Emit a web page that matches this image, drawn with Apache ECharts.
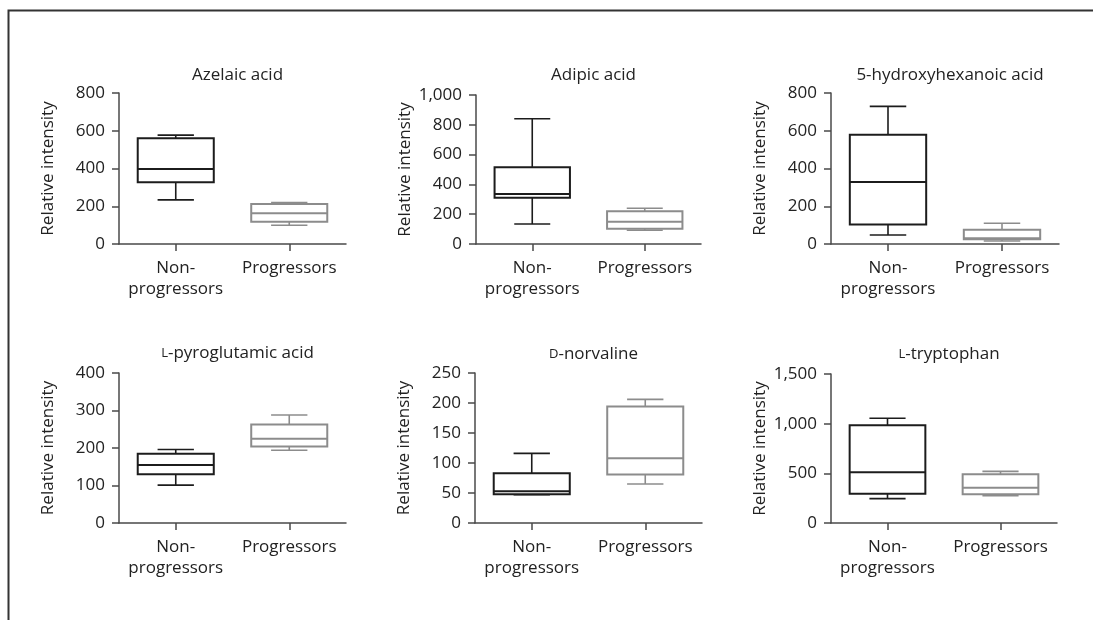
<!DOCTYPE html>
<html>
<head>
<meta charset="utf-8">
<script src="https://cdn.jsdelivr.net/npm/echarts@6/dist/echarts.min.js"></script>
<style>html,body{margin:0;padding:0;background:#fff}#c{width:1093px;height:620px}</style>
</head>
<body>
<div id="c"></div>
<script>
// ---- data ----
const categories = ['Non-\nprogressors', 'Progressors'];
const titles = ['Azelaic acid', 'Adipic acid', '5-hydroxyhexanoic acid', '{sc|L}-pyroglutamic acid', '{sc|D}-norvaline', '{sc|L}-tryptophan'];
// [min, Q1, median, Q3, max]
const nonProgressors = [
  [234, 327, 397, 560, 577],
  [134, 311, 336, 515, 841],
  [48, 103, 329, 579, 729],
  [101, 130, 155, 185, 196],
  [47, 48, 53, 83, 116],
  [245, 295, 510, 983, 1054]
];
const progressors = [
  [99, 118, 163, 212, 219],
  [92, 103, 150, 219, 240],
  [16, 25, 30, 76, 110],
  [194, 204, 225, 263, 288],
  [65, 81, 108, 194, 206],
  [275, 289, 355, 490, 520]
];
const yMax = [800, 1000, 800, 400, 250, 1500];
const yInterval = [200, 200, 200, 100, 50, 500];
const yAxisName = 'Relative intensity';

// ---- layout ----
const grids = [
  {left: 119, top: 93, width: 227, height: 151},
  {left: 476, top: 95, width: 225, height: 149},
  {left: 831, top: 93, width: 228, height: 151},
  {left: 119, top: 373, width: 227, height: 150},
  {left: 475, top: 373, width: 227, height: 150},
  {left: 831, top: 374, width: 226, height: 149}
];
const titleTops = [62, 62, 62, 340, 341, 341];
const FONT = 'Open Sans';
const FS = 17;
const TXT = '#222';
const AXC = '#4a4a4a';
const COLORS = ['#1c1c1c', '#8c8c8c'];

function renderBox(params, api) {
  const cat = api.value(0);
  const color = COLORS[cat];
  const bw = api.size([1, 0])[0];
  const hb = bw * 0.335, hc = bw * 0.16;
  const pMin = api.coord([cat, api.value(1)]);
  const pQ1 = api.coord([cat, api.value(2)]);
  const pMed = api.coord([cat, api.value(3)]);
  const pQ3 = api.coord([cat, api.value(4)]);
  const pMax = api.coord([cat, api.value(5)]);
  const cx = pMed[0];
  const st = {stroke: color, lineWidth: 2, fill: null};
  const wst = {stroke: color, lineWidth: 1.6, fill: null};
  return {
    type: 'group',
    children: [
      {type: 'line', shape: {x1: cx, y1: pQ3[1], x2: cx, y2: pMax[1]}, style: wst},
      {type: 'line', shape: {x1: cx, y1: pQ1[1], x2: cx, y2: pMin[1]}, style: wst},
      {type: 'line', shape: {x1: cx - hc, y1: pMax[1], x2: cx + hc, y2: pMax[1]}, style: wst},
      {type: 'line', shape: {x1: cx - hc, y1: pMin[1], x2: cx + hc, y2: pMin[1]}, style: wst},
      {type: 'rect', shape: {x: cx - hb, y: pQ3[1], width: 2 * hb, height: pQ1[1] - pQ3[1]}, style: {stroke: color, lineWidth: 2, fill: '#fff'}},
      {type: 'line', shape: {x1: cx - hb, y1: pMed[1], x2: cx + hb, y2: pMed[1]}, style: st}
    ]
  };
}

const option = {
  animation: false,
  backgroundColor: '#fff',
  textStyle: {fontFamily: FONT},
  title: [], grid: [], xAxis: [], yAxis: [], series: [],
  graphic: [{
    type: 'polyline',
    shape: {points: [[8.5, 620], [8.5, 10.5], [1093, 10.5]]},
    style: {stroke: '#333', lineWidth: 2, fill: null}
  }]
};

for (let i = 0; i < 6; i++) {
  const g = grids[i];
  option.grid.push(g);
  option.title.push({
    text: titles[i],
    left: g.left + g.width / 2,
    top: titleTops[i],
    textAlign: 'center',
    textStyle: {
      fontFamily: FONT, fontSize: FS, fontWeight: 'normal', color: TXT,
      rich: {sc: {fontFamily: FONT, fontSize: 13, color: TXT, fontWeight: 'normal'}}
    }
  });
  option.xAxis.push({
    type: 'category', gridIndex: i, data: categories,
    axisLine: {lineStyle: {color: AXC, width: 1.5}},
    axisTick: {show: true, alignWithLabel: true, length: 7, lineStyle: {color: AXC, width: 1.5}},
    axisLabel: {color: TXT, fontFamily: FONT, fontSize: FS, margin: 14, lineHeight: 21,
      interval: 0, hideOverlap: false},
    splitLine: {show: false}
  });
  option.yAxis.push({
    type: 'value', gridIndex: i, min: 0, max: yMax[i], interval: yInterval[i],
    name: yAxisName, nameLocation: 'middle', nameGap: 62,
    nameTextStyle: {color: TXT, fontFamily: FONT, fontSize: FS},
    axisLine: {show: true, lineStyle: {color: AXC, width: 1.5}},
    axisTick: {show: true, length: 7, lineStyle: {color: AXC, width: 1.5}},
    axisLabel: {color: TXT, fontFamily: FONT, fontSize: FS, margin: 14,
      formatter: v => v.toLocaleString('en-US')},
    splitLine: {show: false}
  });
  option.series.push({
    type: 'custom', xAxisIndex: i, yAxisIndex: i,
    renderItem: renderBox,
    encode: {x: 0, y: [1, 2, 3, 4, 5]},
    data: [[0].concat(nonProgressors[i]), [1].concat(progressors[i])]
  });
}

const chart = echarts.init(document.getElementById('c'), null, {renderer: 'canvas'});
chart.setOption(option);
</script>
</body>
</html>
